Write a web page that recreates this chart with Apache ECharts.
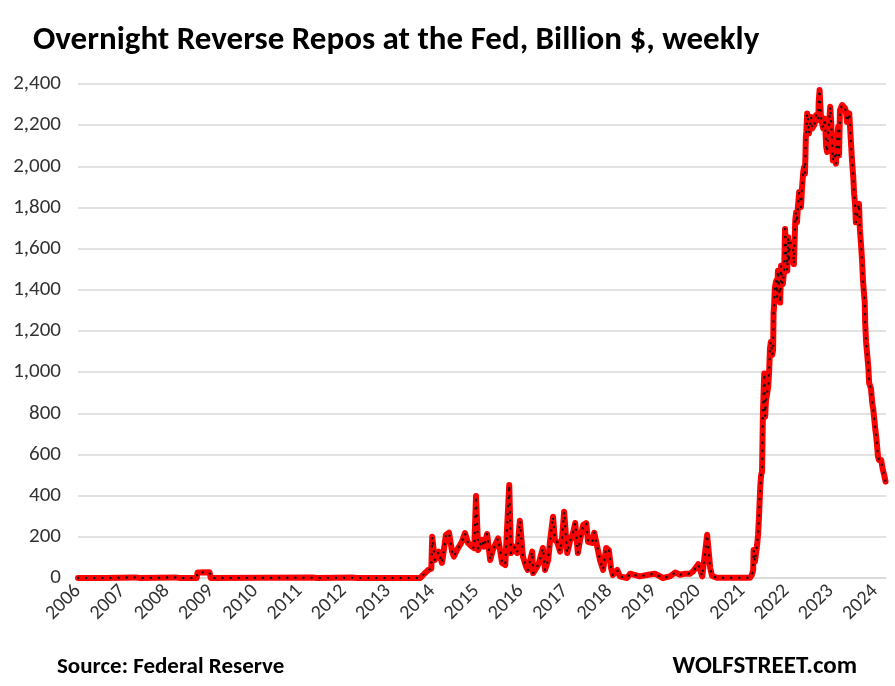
<!DOCTYPE html>
<html>
<head>
<meta charset="utf-8">
<script src="https://cdn.jsdelivr.net/npm/echarts@6/dist/echarts.min.js"></script>
<style>
html,body{margin:0;padding:0;background:#fff;}
#chart{width:895px;height:686px;}
</style>
</head>
<body>
<div id="chart"></div>
<script>
// Decimal-year positions of the weekly readings
const years = [
2006.00,2006.60,2007.30,2007.40,2008.20,2008.30,2008.68,2008.70,2008.97,2009.00,
2011.30,2011.40,2012.20,2012.30,2013.73,2013.79,2013.91,2013.98,2014.00,2014.06,
2014.15,2014.22,2014.24,2014.31,2014.38,2014.45,2014.49,2014.56,2014.67,2014.74,
2014.81,2014.90,2014.95,2014.99,2015.04,2015.13,2015.17,2015.24,2015.31,2015.37,
2015.49,2015.58,2015.65,2015.74,2015.78,2015.85,2015.92,2015.98,2016.05,2016.12,
2016.16,2016.26,2016.28,2016.37,2016.41,2016.50,2016.55,2016.62,2016.66,2016.73,
2016.77,2016.82,2016.89,2016.93,2016.98,2017.05,2017.11,2017.18,2017.23,2017.29,
2017.34,2017.41,2017.48,2017.52,2017.61,2017.66,2017.72,2017.79,2017.86,2017.93,
2017.99,2018.04,2018.08,2018.18,2018.24,2018.40,2018.47,2018.69,2018.88,2019.03,
2019.21,2019.37,2019.49,2019.60,2019.71,2019.82,2019.89,2020.01,2020.10,2020.21,
2020.28,2020.32,2020.43,2021.18,2021.22,2021.25,2021.26,2021.29,2021.34,2021.36,
2021.38,2021.41,2021.43,2021.45,2021.47,2021.50,2021.52,2021.54,2021.56,2021.59,
2021.61,2021.63,2021.65,2021.68,2021.70,2021.71,2021.72,2021.74,2021.77,2021.79,
2021.81,2021.86,2021.88,2021.90,2021.92,2021.95,2021.97,2022.02,2022.04,2022.05,
2022.08,2022.11,2022.15,2022.17,2022.20,2022.22,2022.24,2022.26,2022.29,2022.33,
2022.35,2022.38,2022.40,2022.42,2022.44,2022.45,2022.47,2022.49,2022.51,2022.56,
2022.58,2022.63,2022.67,2022.72,2022.73,2022.75,2022.78,2022.81,2022.83,2022.87,
2022.90,2022.92,2022.94,2022.96,2022.99,2023.01,2023.03,2023.05,2023.08,2023.12,
2023.14,2023.17,2023.19,2023.21,2023.26,2023.28,2023.33,2023.35,2023.37,2023.42,
2023.44,2023.46,2023.48,2023.51,2023.53,2023.55,2023.57,2023.60,2023.62,2023.64,
2023.66,2023.69,2023.71,2023.73,2023.77,2023.78,2023.80,2023.82,2023.85,2023.87,
2023.91,2023.94,2023.96,2024.00,2024.01,2024.03,2024.05,2024.07,2024.09,2024.14,
2024.18,2024.21,2024.24
];
// Overnight reverse repos, billion $
const values = [
0,0,3,0,3,0,0,27,28,0,
2,0,2,0,0,14,39,45,200,87,
128,73,100,209,220,128,104,136,176,218,
170,152,145,398,136,185,152,214,87,136,
193,73,63,452,121,152,121,278,104,55,
39,128,24,55,73,146,39,87,176,298,
185,176,128,185,322,121,176,218,267,121,
185,257,267,176,170,220,160,87,39,146,
136,48,14,39,8,0,21,8,16,21,
0,8,27,16,21,21,31,67,8,210,
48,10,1,1,15,39,136,80,162,210,
290,444,500,516,800,994,784,865,889,929,
1002,1117,1148,1083,1108,1286,1314,1411,1444,1363,
1493,1338,1517,1444,1428,1493,1696,1493,1655,1533,
1631,1639,1615,1525,1737,1777,1728,1802,1875,1802,
1883,1972,1997,1964,2143,2167,2257,2224,2159,2240,
2184,2200,2249,2224,2314,2371,2240,2232,2184,2232,
2094,2070,2151,2192,2289,2224,2127,2029,2062,2013,
2111,2192,2054,2273,2298,2306,2281,2257,2216,2257,
2249,2111,2037,1948,1867,1818,1728,1761,1793,1818,
1696,1607,1541,1444,1338,1237,1148,1099,1027,946,
921,849,824,816,719,686,638,589,573,573,
525,500,468
];
const yTicks = {min: 0, max: 2400, step: 200};
const xTicks = {min: 2006, max: 2024.25, step: 1};

const seriesData = years.map((y, i) => [y, values[i]]);
const FONT = "Carlito, 'Liberation Sans', Arial, sans-serif";
const BOLD = "Carlito, 'Liberation Sans Narrow', 'Liberation Sans', Arial, sans-serif";

const chart = echarts.init(document.getElementById('chart'), null, {renderer: 'canvas'});
chart.setOption({
  animation: false,
  backgroundColor: '#ffffff',
  title: [
    {text: 'Overnight Reverse Repos at the Fed, Billion $, weekly', left: 28, top: 19,
     textStyle: {fontFamily: BOLD, fontWeight: 'bold', fontSize: 33, color: '#000'}},
    {text: 'Source: Federal Reserve', left: 52, top: 651,
     textStyle: {fontFamily: BOLD, fontWeight: 'bold', fontSize: 23, color: '#000'}},
    {text: 'WOLFSTREET.com', right: 33, top: 649,
     textStyle: {fontFamily: BOLD, fontWeight: 'bold', fontSize: 25, color: '#000'}}
  ],
  grid: {left: 78, right: 9, top: 84, bottom: 108, containLabel: false},
  xAxis: {
    type: 'value', min: xTicks.min, max: xTicks.max, interval: xTicks.step,
    axisLine: {show: true, lineStyle: {color: '#d9d9d9', width: 1.5}},
    axisTick: {show: false},
    splitLine: {show: false},
    axisLabel: {
      rotate: 45, margin: 10, fontFamily: FONT, fontSize: 20, color: '#333333',
      formatter: v => Number.isInteger(v) ? String(v) : ''
    }
  },
  yAxis: {
    type: 'value', min: yTicks.min, max: yTicks.max, interval: yTicks.step,
    axisLine: {show: false}, axisTick: {show: false},
    splitLine: {lineStyle: {color: '#d9d9d9', width: 1.5}},
    axisLabel: {
      margin: 17, fontFamily: FONT, fontSize: 21, color: '#333333',
      formatter: v => v.toLocaleString('en-US')
    }
  },
  series: [
    {type: 'line', data: seriesData, showSymbol: false, z: 2,
     lineStyle: {color: '#ff0000', width: 6, join: 'round', cap: 'round'}},
    {type: 'line', data: seriesData, showSymbol: false, z: 3,
     lineStyle: {color: '#111111', width: 2.4, type: [0.1, 8], cap: 'round', join: 'round'}}
  ]
});
</script>
</body>
</html>
